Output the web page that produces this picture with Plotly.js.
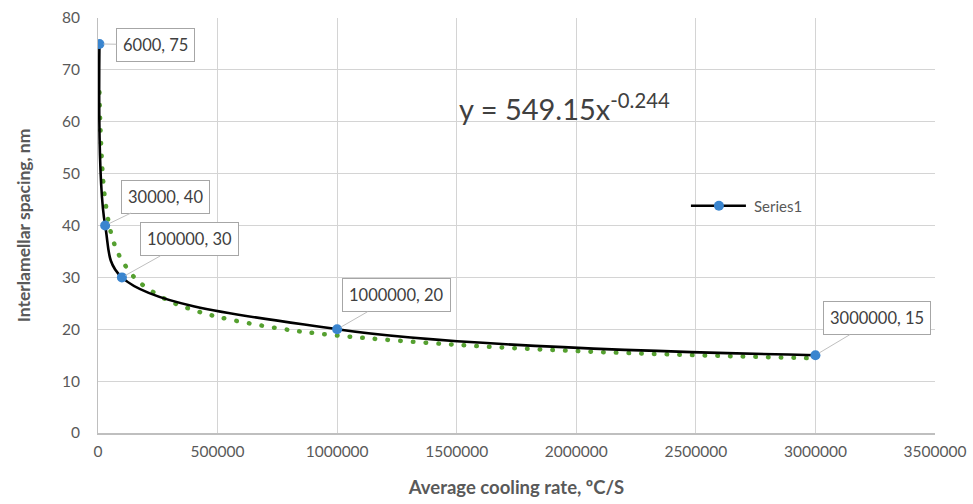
<!DOCTYPE html>
<html>
<head>
<meta charset="utf-8">
<script src="https://cdn.plot.ly/plotly-3.0.1.min.js"></script>
<style>html,body{margin:0;padding:0;background:#fff;}#chart{width:973px;height:504px;}</style>
</head>
<body>
<div id="chart"></div>
<script>
// Measured data points
var coolingRate = [6000, 30000, 100000, 1000000, 3000000];
var spacing = [75, 40, 30, 20, 15];
var pointLabels = ["6000, 75", "30000, 40", "100000, 30", "1000000, 20", "3000000, 15"];

// Power trendline values (green dotted curve)
var trendX = [6000, 10000, 20000, 30000, 50000, 75000, 100000, 150000, 200000, 300000, 400000, 500000, 750000, 1000000, 1500000, 2000000, 2500000, 3000000];
var trendY = [65.7, 58.9, 49.6, 44.9, 39.4, 35.6, 33.3, 30.1, 28.1, 25.4, 23.7, 22.4, 20.2, 18.8, 17.0, 15.8, 15.0, 14.4];

var equationText = "y = 549.15x<sup>-0.244</sup>";
var xTitle = "Average cooling rate, ºC/S";
var yTitle = "Interlamellar spacing, nm";

var FONT = "Lato, 'Open Sans', sans-serif";
var GREY = "#595959";

var traces = [
  {
    x: trendX, y: trendY, mode: "lines", type: "scatter",
    line: {color: "#55A030", width: 4.5, dash: "0.5px,12.2px", shape: "spline"},
    showlegend: false, hoverinfo: "skip"
  },
  {
    x: coolingRate, y: spacing, mode: "lines+markers", type: "scatter", name: "Series1",
    line: {color: "#000000", width: 2.6, shape: "spline", smoothing: 1},
    marker: {color: "#3A85CF", size: 10}
  }
];

// label offsets in pixels (box centre relative to point)
var labelOffsets = [[56, 1], [60, -29], [68, -38], [59, -34], [62, -37]];
var annotations = pointLabels.map(function (t, i) {
  return {
    x: coolingRate[i], y: spacing[i], xref: "x", yref: "y",
    text: t, showarrow: true, arrowhead: 0, arrowwidth: 1, arrowcolor: "#BFBFBF",
    ax: labelOffsets[i][0], ay: labelOffsets[i][1],
    bgcolor: "#FFFFFF", bordercolor: "#A6A6A6", borderwidth: 1, borderpad: 6,
    font: {family: FONT, size: 16.5, color: "#404040"}, standoff: 4
  };
});
annotations.push({
  x: 0.557, y: 0.835, xref: "paper", yref: "paper", showarrow: false,
  text: equationText, font: {family: FONT, size: 29, color: "#404040"}
});

var layout = {
  width: 973, height: 504,
  margin: {l: 98, r: 38, t: 18, b: 71},
  paper_bgcolor: "#FFFFFF", plot_bgcolor: "#FFFFFF",
  font: {family: FONT, color: GREY, size: 15},
  showlegend: true,
  legend: {x: 0.706, y: 0.547, xanchor: "left", yanchor: "middle", bgcolor: "rgba(0,0,0,0)",
    itemwidth: 50, font: {family: FONT, size: 15, color: GREY}},
  xaxis: {
    range: [0, 3500000], dtick: 500000, tick0: 0, tickformat: "d",
    showgrid: true, gridcolor: "#D4D4D4", gridwidth: 1,
    zeroline: false, showline: true, linecolor: "#BFBFBF", linewidth: 1.5,
    ticks: "", ticklabelstandoff: 4, tickfont: {family: FONT, size: 15.5, color: GREY},
    title: {text: xTitle, font: {family: FONT, size: 18.5, color: GREY, weight: "bold"}, standoff: 22}
  },
  yaxis: {
    range: [0, 80], dtick: 10, tick0: 0,
    showgrid: true, gridcolor: "#D4D4D4", gridwidth: 1,
    zeroline: false, showline: true, linecolor: "#BFBFBF", linewidth: 1,
    ticks: "", ticklabelstandoff: 14, tickfont: {family: FONT, size: 15.5, color: GREY},
    title: {text: yTitle, font: {family: FONT, size: 17.5, color: GREY, weight: "bold"}, standoff: 26}
  },
  annotations: annotations
};

Plotly.newPlot("chart", traces, layout, {displayModeBar: false, staticPlot: true}).then(function () {
  var lines = document.querySelectorAll(".scatterlayer .trace:first-child path.js-line");
  lines.forEach(function (p) { p.style.strokeLinecap = "round"; });
  // lengthen the legend line sample to match the reference's legend key
  var leg = document.querySelectorAll(".legend .legendlines path");
  leg.forEach(function (p) {
    var d = p.getAttribute("d") || "";
    var m = d.match(/^M([-\d.]+),([-\d.]+)h([-\d.]+)/);
    if (m) {
      var x0 = parseFloat(m[1]), len = parseFloat(m[3]);
      var c = x0 + len / 2;
      p.setAttribute("d", "M" + (c - 28) + "," + m[2] + "h55");
    }
  });
  document.querySelectorAll(".legend text.legendtext").forEach(function (t) {
    var x = parseFloat(t.getAttribute("x") || "0");
    t.setAttribute("x", x + 5);
  });
});
</script>
</body>
</html>
